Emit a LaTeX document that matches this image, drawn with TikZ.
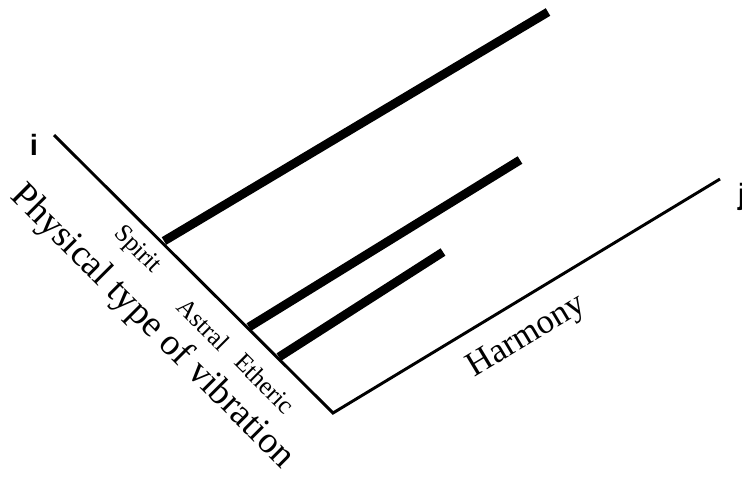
\documentclass[tikz,border=0pt]{standalone}
\usepackage{fontspec}
\setmainfont{Liberation Serif}
\newfontfamily\axisfont{Liberation Sans}
\begin{document}
\begin{tikzpicture}[x=0.75pt,y=0.75pt,
  axisline/.style={line width=2.2pt,line join=miter},
  bar/.style={line width=6.6pt},
  small/.style={font=\fontsize{19}{21}\selectfont,inner sep=0pt},
  big/.style={font=\fontsize{28}{30}\selectfont,inner sep=0pt},
  mid/.style={font=\fontsize{26}{28}\selectfont,inner sep=0pt},
  axlab/.style={font=\axisfont\bfseries\fontsize{22}{24}\selectfont,inner sep=0pt}]
\useasboundingbox (0,0) rectangle (742,-480);
\clip (0,0) rectangle (742,-480);
\fill[white] (0,0) rectangle (742,-480);
% axes
\coordinate (itop) at (54,-135);
\coordinate (corner) at (333,-413);
\coordinate (jend) at (720,-179);
\draw[axisline] (itop) -- (corner) -- (jend);
\node[axlab] (i) at (34,-145) {i};
\node[axlab] (j) at (742,-197) {j};
% bars
\coordinate (s0) at (164,-241);
\coordinate (s1) at (548,-12);
\coordinate (a0) at (249,-327);
\coordinate (a1) at (520,-160);
\coordinate (e0) at (279,-357);
\coordinate (e1) at (443,-252);
\draw[bar] (s0) -- (s1);
\draw[bar] (a0) -- (a1);
\draw[bar] (e0) -- (e1);
% labels
\node[small,rotate=-45] (spirit) at (137,-250) {Spirit};
\node[small,rotate=-45] (astral) at (204,-324) {Astral};
\node[small,rotate=-45] (etheric) at (265,-383) {Etheric};
\node[big,rotate=-45] (ptv) at (152,-327) {Physical type of vibration};
\node[mid,rotate=31] (harmony) at (527,-337) {Harmony};
\end{tikzpicture}
\end{document}
